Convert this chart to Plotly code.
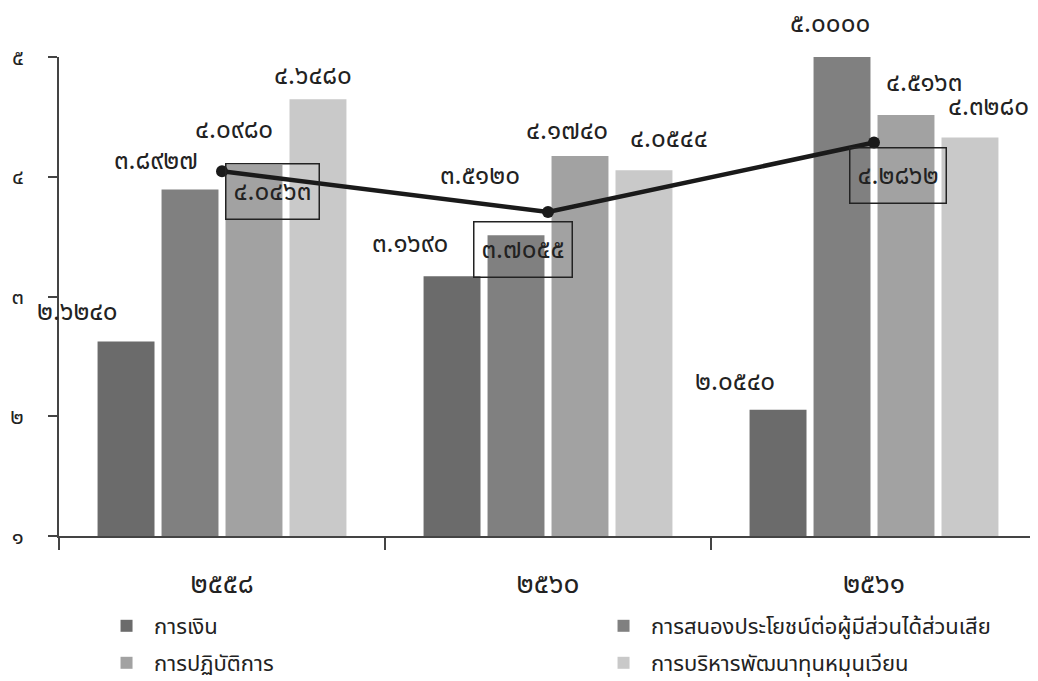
import plotly.graph_objects as go

categories = ["๒๕๕๘", "๒๕๖๐", "๒๕๖๑"]
series_names = ["การเงิน", "การสนองประโยชน์ต่อผู้มีส่วนได้ส่วนเสีย", "การปฏิบัติการ", "การบริหารพัฒนาทุนหมุนเวียน"]
finance = [2.6240, 3.1690, 2.0540]
stakeholder = [3.8927, 3.5120, 5.0000]
operation = [4.0980, 4.1740, 4.5163]
revolving = [4.6480, 4.0544, 4.3280]
overall = [4.0463, 3.7055, 4.2862]
ytick_vals = [1, 2, 3, 4, 5]
ytick_text = ["๑", "๒", "๓", "๔", "๕"]

THAI_DIGITS = "๐๑๒๓๔๕๖๗๘๙"
def thai_num(v):
    s = f"{v:.4f}"
    return "".join(THAI_DIGITS[int(c)] if c.isdigit() else c for c in s)

colors = ["#6b6b6b", "#808080", "#a2a2a2", "#c9c9c9"]
FONT = "Noto Sans Thai, Noto Sans, Loma, Garuda, sans-serif"

series = [finance, stakeholder, operation, revolving]
bargap = 0.215
slot = (1 - bargap) / 4

fig = go.Figure()
legend_ids = ["legend", "legend2", "legend3", "legend4"]
for k, (name, vals) in enumerate(zip(series_names, series)):
    fig.add_trace(go.Bar(x=categories, y=vals, name=name, marker_color=colors[k],
                         marker_line_width=0, legend=legend_ids[k]))

fig.add_trace(go.Scatter(x=categories, y=overall, mode="lines+markers",
                         line=dict(color="#1a1a1a", width=4.5),
                         marker=dict(size=12, color="#1a1a1a"),
                         showlegend=False))

# bar value label offsets (pixels) per category / series
label_dx = [[-49, -34, -20, -5], [-42, -36, -13, 25], [-43, -12, 18, 19]]
label_dy = [[30, 29, 35, 23], [32, 59, 25, 31], [28, 33, 32, 30]]

annotations = []
for i in range(len(categories)):
    for k, vals in enumerate(series):
        annotations.append(dict(
            x=i + (k - 1.5) * slot, y=vals[i], xref="x", yref="y",
            text=thai_num(vals[i]), showarrow=False,
            xanchor="center", yanchor="middle",
            xshift=label_dx[i][k], yshift=label_dy[i][k],
            font=dict(size=26, color="#222", family=FONT)))

box_dx = [50, -25, 24]
box_dy = [-20, -37, -33]
for i in range(len(categories)):
    annotations.append(dict(
        x=i, y=overall[i], xref="x", yref="y", text=thai_num(overall[i]),
        showarrow=False, xanchor="center", yanchor="middle",
        xshift=box_dx[i], yshift=box_dy[i],
        bordercolor="#222", borderwidth=1.5, borderpad=7,
        font=dict(size=26, color="#222", family=FONT)))

legend_common = dict(orientation="h", xref="container", yref="container",
                     xanchor="left", yanchor="middle", itemwidth=45,
                     font=dict(size=22, family=FONT), bgcolor="rgba(0,0,0,0)")
legend_x = [0.0877, 0.5665, 0.0877, 0.5665]
legend_y = [1 - 618 / 681, 1 - 618 / 681, 1 - 655 / 681, 1 - 655 / 681]

layout_legends = {}
for k, lid in enumerate(legend_ids):
    layout_legends[lid] = dict(x=legend_x[k], y=legend_y[k], **legend_common)

fig.update_layout(
    width=1038, height=681,
    margin=dict(l=51, r=9, t=49, b=153, autoexpand=False),
    paper_bgcolor="white", plot_bgcolor="white",
    barmode="group", bargap=bargap, bargroupgap=0.11,
    font=dict(family=FONT, size=18, color="#222"),
    annotations=annotations,
    showlegend=True,
    **layout_legends,
)

fig.update_yaxes(range=[1, 5], tickvals=ytick_vals, ticktext=ytick_text,
                 showline=True, linecolor="#444", linewidth=1.5,
                 ticks="outside", ticklen=9, tickcolor="#444", tickwidth=1.5,
                 showgrid=False, zeroline=False, ticklabelstandoff=20,
                 tickfont=dict(size=22, family=FONT))
fig.update_xaxes(range=[-0.5, 2.5], showline=True, linecolor="#444", linewidth=1.5,
                 ticks="outside", ticklen=12, tickcolor="#444", tickwidth=1.5,
                 tickson="boundaries", showgrid=False, ticklabelstandoff=22,
                 tickfont=dict(size=28, family=FONT))

fig.write_html("out.html")
